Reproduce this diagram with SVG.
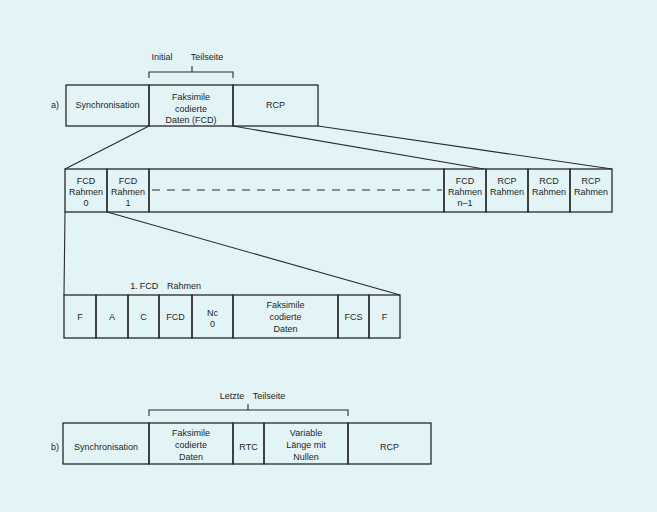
<svg xmlns="http://www.w3.org/2000/svg" width="657" height="512" viewBox="0 0 657 512">
<style>
.b{fill:none;stroke:#2a2a2a;stroke-width:1.3}
.l{fill:none;stroke:#2a2a2a;stroke-width:1.1}
text{font-family:"Liberation Sans","DejaVu Sans",sans-serif;font-size:9px;fill:#1e1e1e;text-anchor:middle}
</style>
<rect width="657" height="512" fill="#e3f4f7"/>

<g id="rowA">
<text x="55" y="108">a)</text>
<g id="a-sync"><rect class="b" x="66" y="85" width="83" height="41"/><text x="107.5" y="108">Synchronisation</text></g>
<g id="a-fcd"><rect class="b" x="149" y="85" width="84" height="41"/><text x="191" y="100">Faksimile</text><text x="191" y="112">codierte</text><text x="191" y="123">Daten (FCD)</text></g>
<g id="a-rcp"><rect class="b" x="233" y="85" width="85" height="41"/><text x="275.5" y="108">RCP</text></g>
<g id="a-bracket"><path class="l" d="M149,78 V72 H233 V78 M192,72 V66"/><text x="162" y="60">Initial</text><text x="207" y="60">Teilseite</text></g>
</g>

<g id="rowFrames">
<g id="f0"><rect class="b" x="65" y="169" width="42" height="43"/><text x="86" y="184">FCD</text><text x="86" y="195">Rahmen</text><text x="86" y="206">0</text></g>
<g id="f1"><rect class="b" x="107" y="169" width="42" height="43"/><text x="128" y="184">FCD</text><text x="128" y="195">Rahmen</text><text x="128" y="206">1</text></g>
<g id="fmid"><rect class="b" x="149" y="169" width="295" height="43"/><line class="l" x1="152" y1="190" x2="442" y2="190" stroke-dasharray="8 7"/></g>
<g id="fn1"><rect class="b" x="444" y="169" width="42" height="43"/><text x="465" y="184">FCD</text><text x="465" y="195">Rahmen</text><text x="465" y="206">n–1</text></g>
<g id="r1"><rect class="b" x="486" y="169" width="42" height="43"/><text x="507" y="184">RCP</text><text x="507" y="195">Rahmen</text></g>
<g id="r2"><rect class="b" x="528" y="169" width="42" height="43"/><text x="549" y="184">RCD</text><text x="549" y="195">Rahmen</text></g>
<g id="r3"><rect class="b" x="570" y="169" width="42" height="43"/><text x="591" y="184">RCP</text><text x="591" y="195">Rahmen</text></g>
</g>

<g id="rowFrame1">
<text x="134" y="289">1.</text><text x="149" y="289">FCD</text><text x="184" y="289">Rahmen</text>
<g id="c-f"><rect class="b" x="64" y="295" width="32" height="43"/><text x="80" y="320">F</text></g>
<g id="c-a"><rect class="b" x="96" y="295" width="32" height="43"/><text x="112" y="320">A</text></g>
<g id="c-c"><rect class="b" x="128" y="295" width="31" height="43"/><text x="143.5" y="320">C</text></g>
<g id="c-fcd"><rect class="b" x="159" y="295" width="33" height="43"/><text x="175.5" y="320">FCD</text></g>
<g id="c-nc"><rect class="b" x="192" y="295" width="41" height="43"/><text x="212.5" y="316">Nc</text><text x="212.5" y="327">0</text></g>
<g id="c-fax"><rect class="b" x="233" y="295" width="105" height="43"/><text x="285.5" y="308">Faksimile</text><text x="285.5" y="320">codierte</text><text x="285.5" y="332">Daten</text></g>
<g id="c-fcs"><rect class="b" x="338" y="295" width="31" height="43"/><text x="353.5" y="320">FCS</text></g>
<g id="c-f2"><rect class="b" x="369" y="295" width="31" height="43"/><text x="384.5" y="320">F</text></g>
</g>

<g id="rowB">
<text x="55" y="450">b)</text>
<g id="b-sync"><rect class="b" x="63" y="423" width="86" height="41"/><text x="106" y="450">Synchronisation</text></g>
<g id="b-fax"><rect class="b" x="149" y="423" width="84" height="41"/><text x="191" y="436">Faksimile</text><text x="191" y="448">codierte</text><text x="191" y="460">Daten</text></g>
<g id="b-rtc"><rect class="b" x="233" y="423" width="31" height="41"/><text x="248.5" y="450">RTC</text></g>
<g id="b-var"><rect class="b" x="264" y="423" width="84" height="41"/><text x="306" y="436">Variable</text><text x="306" y="448">Länge mit</text><text x="306" y="460">Nullen</text></g>
<g id="b-rcp"><rect class="b" x="348" y="423" width="83" height="41"/><text x="389.5" y="450">RCP</text></g>
<g id="b-bracket"><path class="l" d="M149,416 V410 H348 V416 M248,410 V404"/><text x="232" y="399">Letzte</text><text x="269" y="399">Teilseite</text></g>
</g>

<g id="connectors">
<line class="l" x1="149" y1="126" x2="65" y2="169"/>
<line class="l" x1="233" y1="126" x2="484" y2="169"/>
<line class="l" x1="318" y1="126" x2="612" y2="169"/>
<line class="l" x1="65" y1="212" x2="64" y2="295"/>
<line class="l" x1="107" y1="212" x2="400" y2="295"/>
</g>
</svg>
